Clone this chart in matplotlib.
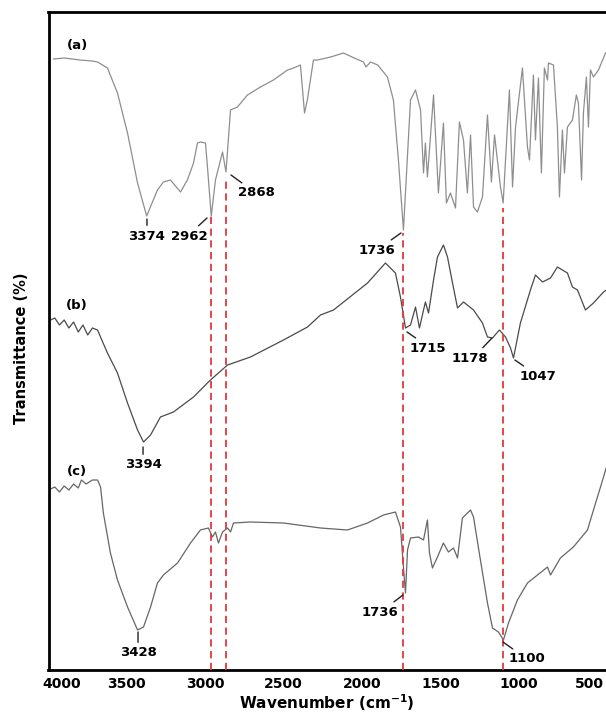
import matplotlib
matplotlib.use("Agg")
import matplotlib.pyplot as plt
import matplotlib.transforms as mtrans

# FTIR spectra (wavenumber in cm-1, transmittance in arbitrary offset units)
wn_a = [3968, 3900, 3800, 3720, 3687, 3624, 3560, 3496, 3432, 3374, 3305, 3267, 3222, 3158,
        3114, 3075, 3050, 3031, 2999, 2986, 2962, 2935, 2890, 2868, 2839, 2795, 2731, 2648,
        2565, 2476, 2437, 2393, 2367, 2349, 2310, 2284, 2200, 2119, 2050, 1991, 1975, 1946,
        1900, 1838, 1800, 1768, 1736, 1691, 1659, 1627, 1608, 1596, 1583, 1544, 1513, 1481,
        1462, 1436, 1404, 1379, 1353, 1328, 1308, 1289, 1264, 1232, 1200, 1175, 1155, 1117,
        1100, 1060, 1040, 1021, 977, 945, 932, 907, 894, 875, 856, 837, 817, 811, 779, 754,
        741, 722, 709, 690, 658, 633, 620, 600, 588, 569, 556, 543, 524, 492, 447]
t_a = [611, 612, 610, 609, 608, 602, 577, 537, 487, 454, 480, 488, 490, 478,
       490, 507, 527, 528, 527, 503, 454, 490, 518, 498, 560, 563, 575, 583,
       590, 600, 602, 605, 557, 570, 610, 610, 613, 617, 612, 608, 603, 608,
       605, 593, 570, 510, 440, 570, 580, 560, 497, 527, 493, 575, 477, 547,
       467, 477, 462, 548, 530, 477, 535, 463, 458, 473, 555, 488, 535, 483,
       467, 580, 483, 543, 602, 523, 510, 595, 530, 592, 497, 602, 590, 607, 605, 543,
       473, 540, 497, 543, 550, 575, 567, 490, 557, 593, 543, 600, 593, 600, 617]

wn_b = [3987, 3960, 3930, 3900, 3870, 3840, 3810, 3780, 3750, 3720, 3687, 3660, 3624, 3560,
        3496, 3432, 3394, 3349, 3286, 3203, 3075, 2967, 2858, 2712, 2501, 2348, 2265, 2182,
        1965, 1851, 1787, 1755, 1723, 1691, 1659, 1634, 1596, 1576, 1544, 1519, 1481, 1455,
        1423, 1391, 1353, 1289, 1232, 1200, 1168, 1124, 1085, 1053, 1034, 990, 926, 894,
        849, 798, 754, 690, 658, 626, 575, 524, 460, 441]
t_b = [350, 352, 345, 350, 342, 348, 338, 345, 335, 342, 340, 330, 317, 297,
       267, 240, 228, 235, 253, 258, 273, 290, 305, 313, 330, 343, 355, 360,
       387, 407, 397, 373, 342, 345, 363, 342, 368, 357, 390, 413, 425, 413,
       387, 362, 368, 360, 347, 333, 332, 340, 333, 322, 312, 347, 380, 395,
       388, 392, 403, 397, 383, 380, 360, 367, 378, 380]

wn_c = [3987, 3960, 3930, 3900, 3870, 3840, 3810, 3790, 3760, 3720, 3687, 3668, 3650, 3605,
        3560, 3496, 3432, 3394, 3349, 3305, 3267, 3177, 3094, 3031, 2980, 2954, 2935, 2916,
        2890, 2858, 2839, 2820, 2712, 2501, 2265, 2093, 1965, 1863, 1787, 1755, 1736, 1723,
        1710, 1691, 1640, 1608, 1583, 1570, 1551, 1519, 1481, 1449, 1417, 1391, 1360, 1308,
        1289, 1245, 1200, 1168, 1130, 1098, 1066, 1009, 945, 881, 817, 798, 735, 652, 562,
        524, 479, 441]
t_c = [181, 183, 178, 184, 180, 186, 182, 190, 186, 190, 190, 183, 157, 117,
       90, 63, 40, 43, 63, 87, 95, 107, 127, 140, 142, 133, 138, 127,
       138, 142, 138, 147, 148, 147, 142, 140, 147, 155, 158, 143, 103, 77,
       120, 132, 133, 130, 150, 117, 102, 113, 127, 118, 122, 112, 152, 160,
       153, 110, 67, 42, 38, 30, 47, 70, 87, 95, 103, 95, 112, 123, 140,
       160, 183, 203]

xticks = [4000, 3500, 3000, 2500, 2000, 1500, 1000, 500]

# marked bands: wavenumber, top of the dashed line
band_wn = [2962, 2868, 1736, 1100]
band_top = [455, 493, 437, 462]

# peak labels: text, leader end (wn, t), text offset in pixels, leader attach point on text
peaks = [
    ("3374", 3372, 451, 0, -17, (0.5, 1)),
    ("2962", 2989, 452, -18, -18, (0.65, 1)),
    ("2868", 2836, 495, 25, -18, (0.25, 1)),
    ("1736", 1752, 437, -24, -17, (0.75, 1)),
    ("1715", 1713, 338, 21, -16, (0.3, 1)),
    ("1178", 1171, 332, -22, -20, (0.75, 1)),
    ("1047", 1025, 310, 23, -16, (0.25, 1)),
    ("3394", 3397, 223, 0, -18, (0.5, 1)),
    ("3428", 3429, 38, 0, -21, (0.5, 1)),
    ("1736", 1739, 75, -23, -17, (0.75, 1)),
    ("1100", 1101, 28, 24, -17, (0.25, 1)),
]

names = ["(a)", "(b)", "(c)"]
name_t = [624, 364, 199]

fig = plt.figure(figsize=(6.06, 7.19), dpi=100)
ax = fig.add_axes([48.5 / 606, 49 / 719, 1 - 48.5 / 606, 658 / 719])

ax.plot(wn_a, t_a, color="#8e8e8e", lw=0.9)
ax.plot(wn_b, t_b, color="#4a4a4a", lw=0.9)
ax.plot(wn_c, t_c, color="#666666", lw=0.9)

for x, top in zip(band_wn, band_top):
    ax.plot([x, x], [0, top], color="#e2383c", lw=1.3, ls=(0, (4, 2.5)), zorder=3)

for lab, x, y, dx, dy, rp in peaks:
    ax.annotate(lab, xy=(x, y), xytext=(dx, dy), textcoords="offset pixels",
                ha="center", va="center", fontsize=9.5, fontweight="bold",
                arrowprops=dict(arrowstyle="-", color="#222222", lw=1,
                                shrinkA=1, shrinkB=0, relpos=rp))

for n, y in zip(names, name_t):
    ax.text(3818, y, n, ha="center", va="center", fontsize=9.5, fontweight="bold")

ax.set_xlim(4000, 444)
ax.set_ylim(0, 658)
ax.set_xticks(xticks)
ax.set_yticks([])
ax.tick_params(axis="x", length=0, pad=5, labelsize=10)
for lbl in ax.get_xticklabels():
    lbl.set_fontweight("bold")
# edge labels are nudged inward, as in the original
first = ax.get_xticklabels()[0]
first.set_transform(first.get_transform() + mtrans.ScaledTranslation(0.13, 0, fig.dpi_scale_trans))
last = ax.get_xticklabels()[-1]
last.set_transform(last.get_transform() + mtrans.ScaledTranslation(-0.08, 0, fig.dpi_scale_trans))

for s in ["left", "top", "bottom"]:
    ax.spines[s].set_linewidth(2)
ax.spines["right"].set_visible(False)

fig.text(22 / 606, 1 - 348 / 719, "Transmittance (%)", rotation=90, ha="center", va="center",
         fontsize=10.5, fontweight="bold")
fig.text(327 / 606, 1 - 703 / 719, "Wavenumber (cm$^{\\mathbf{-1}}$)", ha="center", va="center",
         fontsize=11, fontweight="bold")

fig.savefig("out.png", dpi=100)
